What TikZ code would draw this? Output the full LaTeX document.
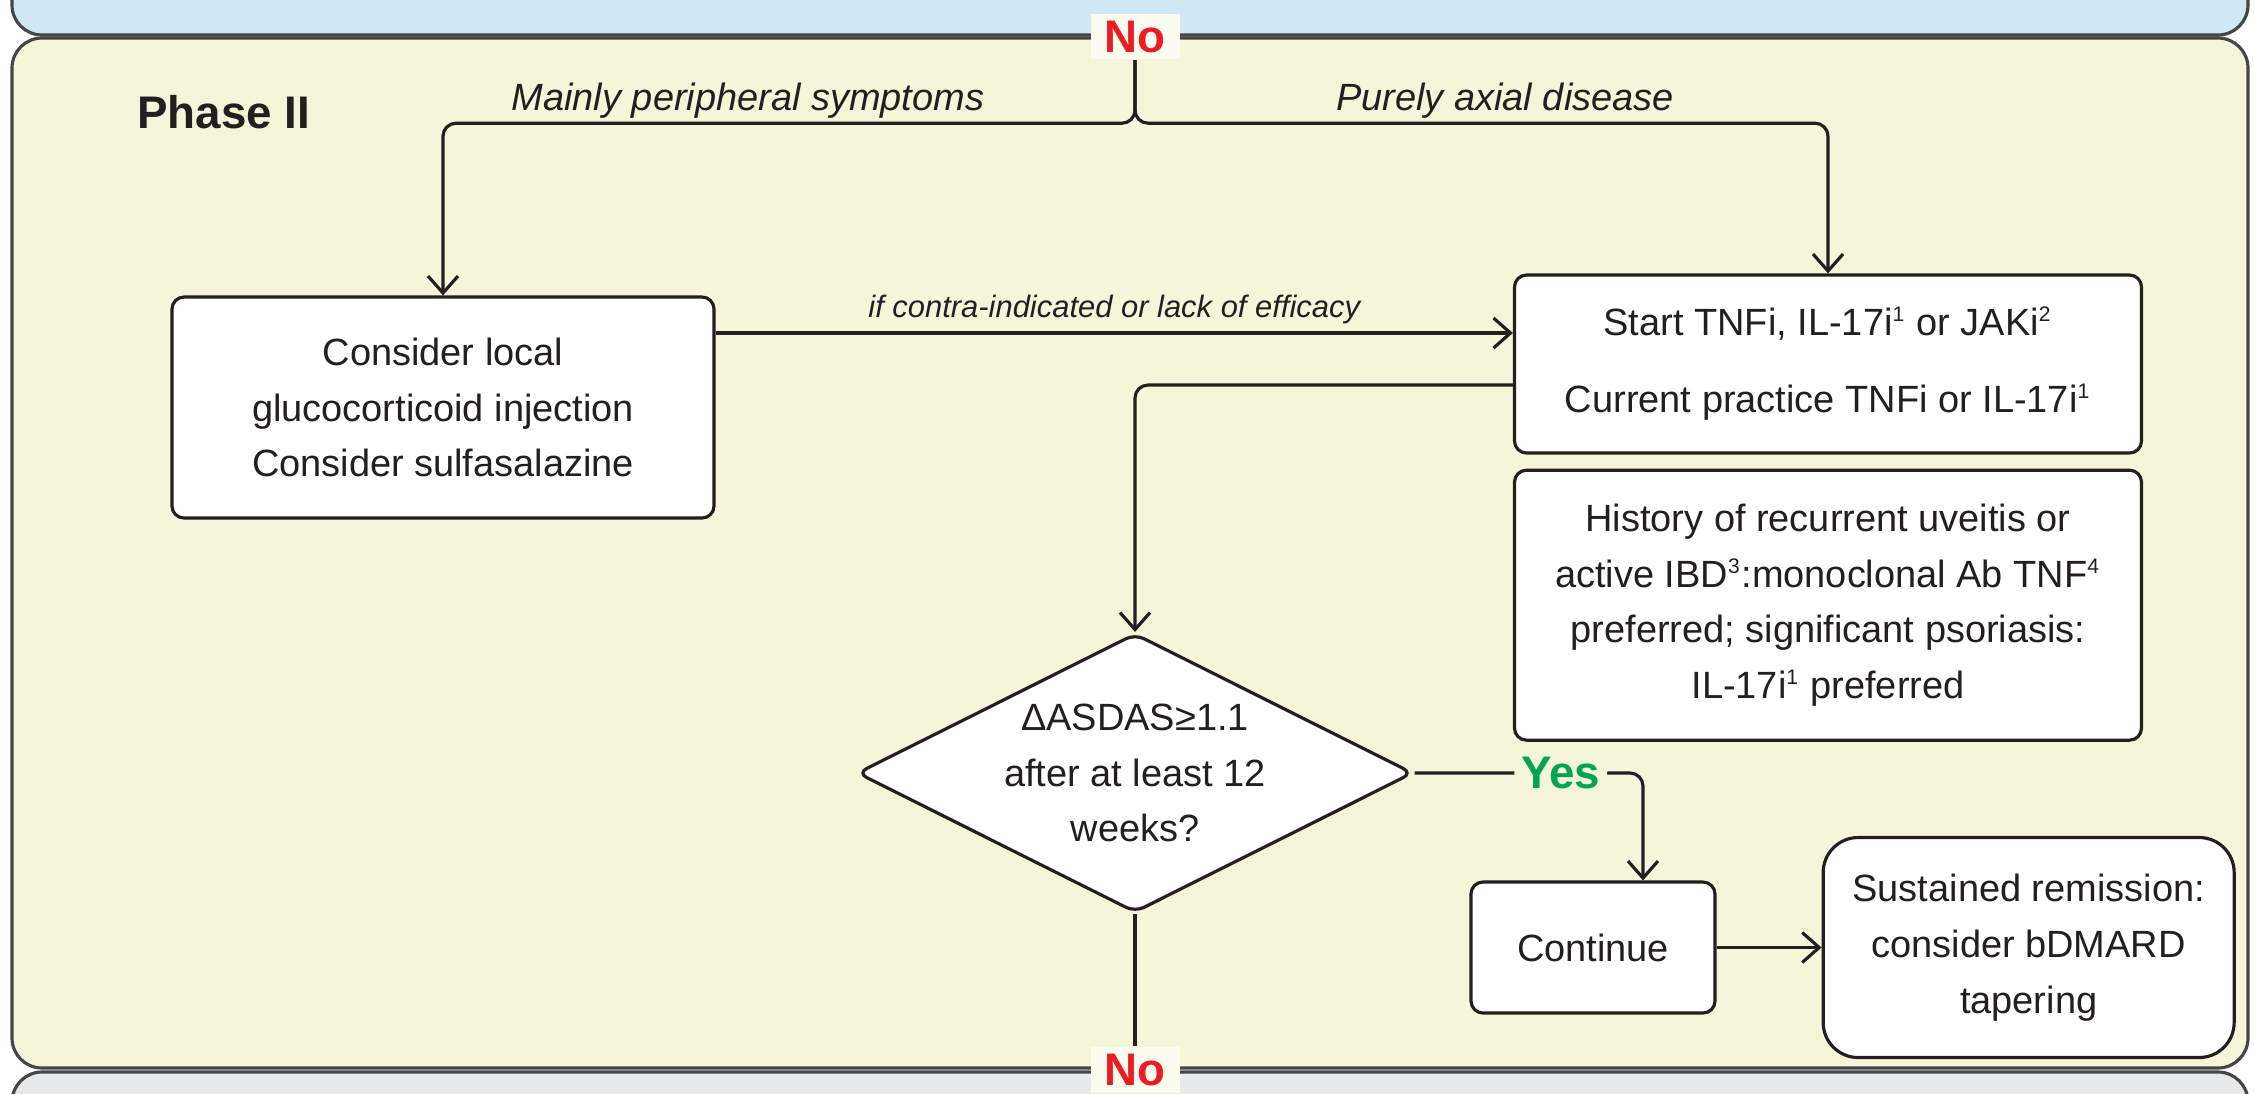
\documentclass[tikz,border=0pt]{standalone}
\usepackage{fontspec}
\setmainfont{Liberation Sans}
\usetikzlibrary{arrows.meta,positioning,shapes.geometric}

\definecolor{panelyel}{RGB}{245,245,218}
\definecolor{bandblue}{RGB}{208,231,244}
\definecolor{bandgray}{RGB}{232,233,235}
\definecolor{panelline}{RGB}{70,70,70}
\definecolor{txt}{RGB}{35,31,32}
\definecolor{nored}{RGB}{237,28,36}
\definecolor{yesgreen}{RGB}{0,166,81}
\newcommand{\fnref}[1]{\textsuperscript{\fontsize{6}{6}\selectfont#1}}

\begin{document}
\begin{tikzpicture}[font=\fontsize{10.8}{15.9}\selectfont,>={Straight Barb[length=1.7mm,width=3mm]},
 box/.style={draw=txt,fill=white,line width=0.9pt,rounded corners=1.2mm,align=center,text=txt},
 decision/.style={diamond,aspect=2,draw=txt,fill=white,line width=0.9pt,rounded corners=1mm,inner sep=0pt,align=center,text=txt},
 lbl/.style={font=\fontsize{10.8}{13}\selectfont\itshape,text=txt},
 note/.style={font=\fontsize{8.8}{10}\selectfont\itshape,text=txt},
 answer/.style={font=\fontsize{13}{15}\selectfont\bfseries,fill=panelyel,inner xsep=2pt,inner ysep=2pt},
 conn/.style={->,draw=txt,line width=0.9pt,rounded corners=1.3mm}]
\useasboundingbox (0,0) rectangle (22.54,-10.93);
% phase bands
\path[fill=bandblue,draw=panelline,line width=0.9pt,rounded corners=3mm] (0.12,0.4) -- (0.12,-0.35) -- (22.48,-0.35) -- (22.48,0.4);
\draw[fill=panelyel,draw=panelline,line width=0.9pt,rounded corners=3mm] (0.12,-0.38) rectangle (22.48,-10.68);
\path[fill=bandgray,draw=panelline,line width=0.9pt,rounded corners=3mm] (0.12,-11.3) -- (0.12,-10.72) -- (22.48,-10.72) -- (22.48,-11.3);

\node[anchor=base west,font=\fontsize{13}{15}\selectfont\bfseries,text=txt] (phase) at (1.25,-1.28) {Phase II};
\node[answer,text=nored,fill=panelyel!40!white,inner xsep=4pt] (notop) at (11.35,-0.365) {No};
\coordinate[below=0.63cm of notop] (fork);
\node[lbl,anchor=base] (perip) at (7.48,-1.10) {Mainly peripheral symptoms};
\node[lbl,anchor=base] (axial) at (15.05,-1.10) {Purely axial disease};

\node[box,minimum width=5.42cm,minimum height=2.21cm] (local) at (4.43,-4.075) {Consider local\\glucocorticoid injection\\Consider sulfasalazine};
\node[box,minimum width=6.27cm,minimum height=1.78cm] (tnfi) at (18.28,-3.64) {Start TNFi, IL-17i\fnref{1} or JAKi\fnref{2}\\[6pt]Current practice TNFi or IL-17i\fnref{1}};
\node[box,below=1.4mm of tnfi,minimum width=6.27cm,minimum height=2.70cm] (hist) {History of recurrent uveitis or\\active IBD\fnref{3}:monoclonal Ab TNF\fnref{4}\\preferred; significant psoriasis:\\IL-17i\fnref{1} preferred};
\node[decision,minimum width=5.56cm,minimum height=2.79cm] (asdas) at (11.35,-7.73) {ΔASDAS≥1.1\\after at least 12\\weeks?};
\node[box,minimum width=2.44cm,minimum height=1.31cm] (cont) at (15.93,-9.475) {Continue};
\node[box,right=1.05cm of cont,minimum width=4.11cm,minimum height=2.20cm,rounded corners=3.5mm] (remis) {Sustained remission:\\consider bDMARD\\tapering};
\node[answer,text=nored,fill=panelyel!40!white,inner xsep=4pt] (nobot) at (11.35,-10.70) {No};

\draw[conn] (notop.south) -- (fork) -| (local.north);
\draw[conn] (notop.south) -- (fork) -| (tnfi.north);
\coordinate (ci) at ([yshift=7.45mm]local.east);
\draw[conn] (ci) -- node[note,above,inner sep=2pt] {if contra-indicated or lack of efficacy} (ci -| tnfi.west);
\draw[conn] ([yshift=-2.1mm]tnfi.west) -| (asdas.north);
\draw[conn] (asdas.east) -| node[answer,text=yesgreen,pos=0.32] {Yes} ([xshift=5mm]cont.north);
\draw[conn] (cont) -- (remis);
\draw[draw=txt,line width=0.9pt] (asdas.south) -- (nobot);
\end{tikzpicture}
\end{document}
